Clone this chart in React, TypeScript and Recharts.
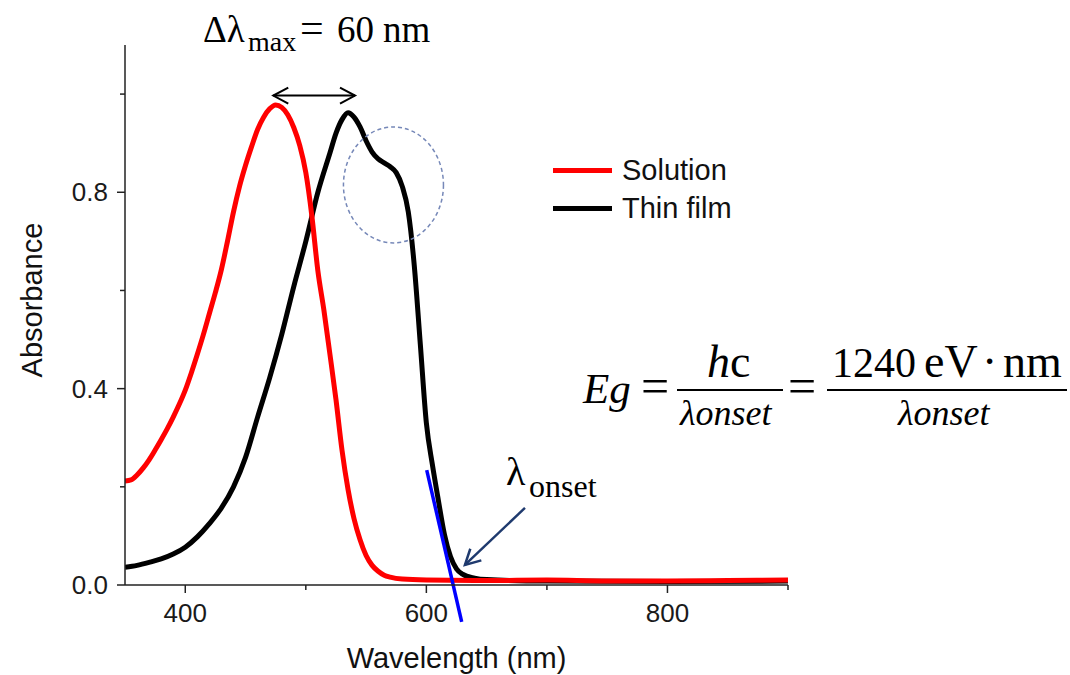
import React from 'react';
import { LineChart, Line, XAxis, YAxis, Legend, ReferenceLine, ReferenceDot } from 'recharts';

// ---------- data ----------
const solutionWavelength = [350, 355, 360, 365, 370, 375, 380, 385, 390, 395, 400, 405, 410, 415, 420, 425, 430, 435, 440, 445, 450, 455, 460, 465, 470, 475, 480, 485, 490, 495, 500, 505, 510, 515, 520, 525, 530, 535, 540, 545, 550, 555, 560, 565, 570, 580, 600, 650, 700, 750, 800, 850, 900];
const solutionAbsorbance = [0.212, 0.214, 0.224, 0.238, 0.255, 0.275, 0.296, 0.318, 0.342, 0.368, 0.397, 0.432, 0.47, 0.51, 0.553, 0.596, 0.643, 0.7, 0.76, 0.812, 0.855, 0.893, 0.928, 0.953, 0.97, 0.978, 0.973, 0.958, 0.932, 0.895, 0.84, 0.752, 0.64, 0.56, 0.47, 0.378, 0.275, 0.195, 0.135, 0.092, 0.06, 0.04, 0.028, 0.02, 0.016, 0.012, 0.01, 0.009, 0.01, 0.008, 0.008, 0.009, 0.01];

const filmWavelength = [350, 360, 370, 380, 390, 400, 410, 420, 430, 440, 450, 460, 470, 480, 490, 500, 510, 520, 525, 530, 535, 540, 545, 550, 555, 560, 565, 570, 575, 580, 585, 590, 595, 600, 605, 610, 615, 620, 625, 630, 640, 650, 700, 800, 900];
const filmAbsorbance = [0.036, 0.04, 0.046, 0.053, 0.063, 0.077, 0.098, 0.125, 0.157, 0.2, 0.26, 0.342, 0.422, 0.51, 0.608, 0.7, 0.8, 0.88, 0.92, 0.948, 0.962, 0.953, 0.933, 0.905, 0.882, 0.868, 0.86, 0.852, 0.84, 0.812, 0.76, 0.65, 0.49, 0.33, 0.245, 0.172, 0.103, 0.058, 0.033, 0.022, 0.014, 0.011, 0.008, 0.007, 0.008];

const legendOrder = ['Solution', 'Thin film'];
const xTicks = [400, 500, 600, 700, 800, 900];
const xMajorTicks = [400, 600, 800];
const yTicks = [0, 0.2, 0.4, 0.6, 0.8, 1.0];
const yMajorTicks = [0, 0.4, 0.8];

// annotations (data coordinates)
const deltaArrow = [{ x: 473, y: 0.997 }, { x: 540.8, y: 0.997 }];
const onsetTangent = [{ x: 600.3, y: 0.234 }, { x: 629.3, y: -0.075 }];
const onsetPointer = [{ x: 681.8, y: 0.157 }, { x: 632, y: 0.041 }];
const shoulderMark = { x: 572.7, y: 0.815 };

const solutionData = solutionWavelength.map((wl, i) => ({ wl, abs: solutionAbsorbance[i] }));
const filmData = filmWavelength.map((wl, i) => ({ wl, abs: filmAbsorbance[i] }));

const SANS = 'Liberation Sans, Arial, sans-serif';
const SERIF = 'Liberation Serif, Times New Roman, serif';
const AXIS = '#222';

const XTick = (props: any) => {
  const { x, y, payload } = props;
  const v = payload.value;
  const major = xMajorTicks.includes(v);
  return (
    <g>
      <line x1={x} x2={x} y1={y} y2={y + (major ? 8 : 5)} stroke={AXIS} strokeWidth={1.5} />
      {major && (
        <text x={x} y={y + 37} textAnchor="middle" fontFamily={SANS} fontSize={26} fill="#1a1a1a">
          {v}
        </text>
      )}
    </g>
  );
};

const YTick = (props: any) => {
  const { x, y, payload } = props;
  const v = payload.value;
  const major = yMajorTicks.some((m) => Math.abs(m - v) < 1e-6);
  return (
    <g>
      <line x1={x - (major ? 8 : 5)} x2={x} y1={y} y2={y} stroke={AXIS} strokeWidth={1.5} />
      {major && (
        <text x={x - 17} y={y + 9} textAnchor="end" fontFamily={SANS} fontSize={26} fill="#1a1a1a">
          {v.toFixed(1)}
        </text>
      )}
    </g>
  );
};

const arrowShape = (color: string, width: number, both: boolean) => (p: any) => {
  const { x1, y1, x2, y2 } = p;
  const len = 15;
  const half = 8;
  const head = (tx: number, ty: number, fx: number, fy: number) => {
    const dx = fx - tx;
    const dy = fy - ty;
    const d = Math.sqrt(dx * dx + dy * dy) || 1;
    const ux = dx / d;
    const uy = dy / d;
    const bx = tx + ux * len;
    const by = ty + uy * len;
    const pts = `${bx - uy * half},${by + ux * half} ${tx},${ty} ${bx + uy * half},${by - ux * half}`;
    return <polyline points={pts} fill="none" stroke={color} strokeWidth={width} strokeLinejoin="miter" />;
  };
  return (
    <g>
      <line x1={x1} y1={y1} x2={x2} y2={y2} stroke={color} strokeWidth={width} />
      {head(x2, y2, x1, y1)}
      {both && head(x1, y1, x2, y2)}
    </g>
  );
};

const ellipseShape = (p: any) => (
  <ellipse cx={p.cx} cy={p.cy} rx={50} ry={58} fill="none" stroke="#7688b8" strokeWidth={1.5} strokeDasharray="4 3" />
);

const LegendContent = (props: any) => {
  const payload = props.payload || [];
  const items = legendOrder.map((n) => payload.find((e: any) => e.value === n)).filter(Boolean);
  return (
    <div>
      {items.map((e: any) => (
        <div key={e.value} style={{ display: 'flex', alignItems: 'center', height: 38 }}>
          <div style={{ width: 59, height: 5, background: e.color, marginRight: 10 }} />
          <span style={{ fontFamily: SANS, fontSize: 29, color: '#111', lineHeight: '38px' }}>{e.value}</span>
        </div>
      ))}
    </div>
  );
};

export default function App() {
  return (
    <div style={{ position: 'absolute', left: 0, top: 0, width: 1070, height: 675, background: '#fff' }}>
      <LineChart width={1070} height={675} margin={{ top: 45, right: 282, bottom: 10, left: 65 }}>
        <XAxis
          dataKey="wl"
          type="number"
          domain={[350, 900]}
          allowDataOverflow
          ticks={xTicks}
          interval={0}
          tickSize={0}
          tickMargin={0}
          tick={<XTick />}
          height={80}
          axisLine={{ stroke: AXIS, strokeWidth: 1.5 }}
          label={(lp: any) => {
            const vb = lp.viewBox;
            return (
              <text x={vb.x + vb.width / 2} y={vb.y + 83} textAnchor="middle" fontFamily={SANS} fontSize={29} fill="#111">
                Wavelength (nm)
              </text>
            );
          }}
        />
        <YAxis
          type="number"
          domain={[0, 1.1]}
          allowDataOverflow
          ticks={yTicks}
          interval={0}
          tickSize={0}
          tickMargin={0}
          tick={<YTick />}
          width={60}
          axisLine={{ stroke: AXIS, strokeWidth: 1.5 }}
          label={() => (
            <text x={42} y={300} transform="rotate(-90 42 300)" textAnchor="middle" fontFamily={SANS} fontSize={29} fill="#111">
              Absorbance
            </text>
          )}
        />
        <Legend
          layout="vertical"
          align="center"
          verticalAlign="middle"
          content={<LegendContent />}
          wrapperStyle={{ position: 'absolute', left: 553, top: 151, width: 220, height: 76 }}
        />
        <Line data={filmData} dataKey="abs" name="Thin film" type="monotone" stroke="#000" strokeWidth={5} dot={false} activeDot={false} isAnimationActive={false} />
        <Line data={solutionData} dataKey="abs" name="Solution" type="monotone" stroke="#ff0000" strokeWidth={5} dot={false} activeDot={false} isAnimationActive={false} />
        <ReferenceLine segment={onsetTangent} ifOverflow="visible" stroke="#0000ff" strokeWidth={3.5} />
        <ReferenceLine segment={deltaArrow} ifOverflow="visible" shape={arrowShape('#000', 2, true)} />
        <ReferenceLine segment={onsetPointer} ifOverflow="visible" shape={arrowShape('#1f3a6e', 2.5, false)} />
        <ReferenceDot x={shoulderMark.x} y={shoulderMark.y} r={50} ifOverflow="visible" shape={ellipseShape} />
      </LineChart>
      <svg width={1070} height={675} style={{ position: 'absolute', left: 0, top: 0, pointerEvents: 'none' }}>
        <g fontFamily={SERIF} fill="#000">
          <text x={203} y={42} fontSize={37}>Δλ</text>
          <text x={248} y={51} fontSize={28}>max</text>
          <text x={300} y={42} fontSize={42}>=</text>
          <text x={337} y={42} fontSize={37}>60</text>
          <text x={383} y={42} fontSize={37}>nm</text>

          <text x={506} y={485} fontSize={40}>λ</text>
          <text x={529} y={497} fontSize={32}>onset</text>

          <text x={583} y={403} fontSize={43} fontStyle="italic">Eg</text>
          <text x={641} y={403} fontSize={50}>=</text>
          <text x={707} y={377} fontSize={46}><tspan fontStyle="italic">h</tspan>c</text>
          <line x1={677} x2={783} y1={390} y2={390} stroke="#000" strokeWidth={2} />
          <text x={680} y={425} fontSize={36} fontStyle="italic">λonset</text>
          <text x={788} y={403} fontSize={50}>=</text>
          <text x={832} y={377} fontSize={42}>1240</text>
          <text x={924} y={377} fontSize={46}>eV</text>
          <text x={982} y={377} fontSize={46}>·</text>
          <text x={1003} y={377} fontSize={46}>nm</text>
          <line x1={827} x2={1067} y1={390} y2={390} stroke="#000" strokeWidth={2} />
          <text x={898} y={425} fontSize={36} fontStyle="italic">λonset</text>
        </g>
      </svg>
    </div>
  );
}
